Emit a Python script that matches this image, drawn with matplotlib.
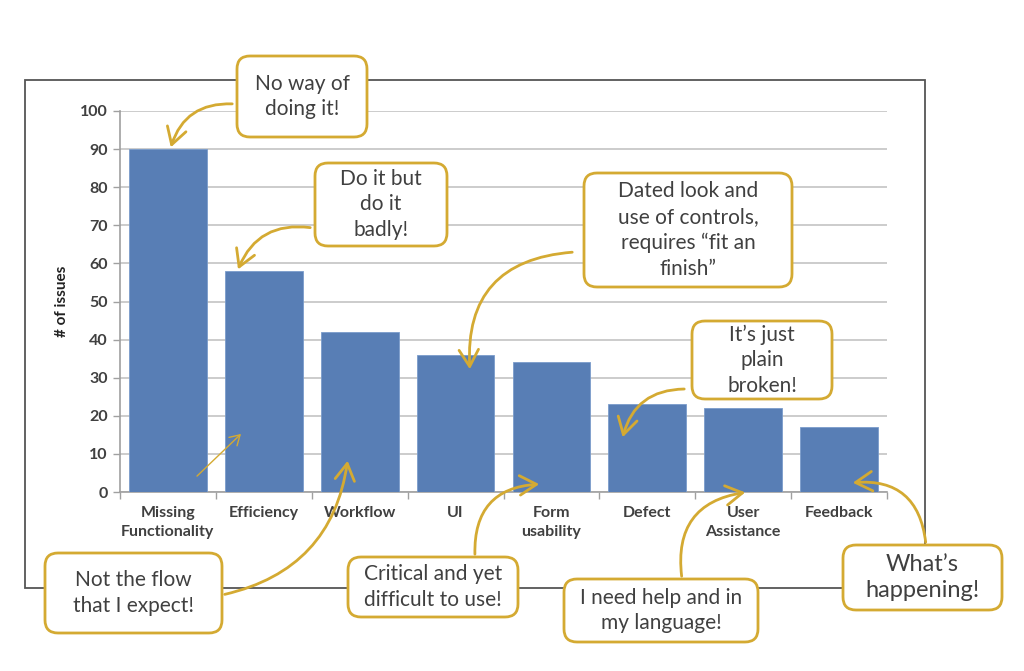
import matplotlib
matplotlib.use("Agg")
import matplotlib.pyplot as plt
from matplotlib.patches import FancyBboxPatch, FancyArrowPatch, Rectangle

plt.rcParams['font.family'] = ['Lato', 'DejaVu Sans']

# data
categories = ["Missing\nFunctionality", "Efficiency", "Workflow", "UI",
              "Form\nusability", "Defect", "User\nAssistance", "Feedback"]
issues = [90, 58, 42, 36, 34, 23, 22, 17]
yticks = [0, 10, 20, 30, 40, 50, 60, 70, 80, 90, 100]

# callouts: text, box (x0, y0, x1, y1) in pixels, arrow start, arrow end, rad, fontsize
callouts = [
    ("No way of\ndoing it!", (237, 56, 367, 137), (235, 104), (170, 150), 0.4, 15),
    ("Do it but\ndo it\nbadly!", (315, 163, 447, 246), (313, 228), (237, 272), 0.4, 15),
    ("Dated look and\nuse of controls,\nrequires \u201cfit an\nfinish\u201d",
     (584, 173, 792, 287), (575, 252), (470, 372), 0.5, 15),
    ("It\u2019s just\nplain\nbroken!", (692, 321, 832, 399), (687, 389), (622, 440), 0.4, 15),
    ("Not the flow\nthat I expect!", (45, 553, 222, 633), (222, 595), (348, 458), 0.35, 15),
    ("Critical and yet\ndifficult to use!", (348, 557, 518, 617), (475, 557), (542, 484), -0.5, 15),
    ("I need help and in\nmy language!", (564, 579, 758, 642), (682, 579), (748, 492), -0.5, 15),
    ("What\u2019s\nhappening!", (843, 545, 1002, 610), (926, 545), (850, 483), 0.5, 17),
]

W, H = 1024, 671
gold = '#D4AA32'
text_col = '#404040'
bar_col = '#587EB5'

fig = plt.figure(figsize=(W / 100, H / 100), dpi=100)
fig.patch.set_facecolor('white')

# overlay in pixel coordinates for the frame and callouts
ov = fig.add_axes([0, 0, 1, 1], zorder=0)
ov.set_xlim(0, W)
ov.set_ylim(H, 0)
ov.axis('off')
ov.add_patch(Rectangle((25, 80), 900, 508, fill=False, edgecolor='#555555', lw=1.3))

ax = fig.add_axes([120 / W, 179 / H, 767 / W, 381 / H], zorder=1)
ax.patch.set_alpha(0)
x = list(range(len(categories)))
ax.bar(x, issues, width=0.81, color=bar_col, edgecolor='#7A9CCB', linewidth=0.6, zorder=3)
ax.set_xlim(-0.5, len(categories) - 0.5)
ax.set_ylim(0, 100)
ax.set_yticks(yticks)
ax.set_yticklabels([str(v) for v in yticks], fontsize=11.5, color=text_col, fontweight='bold')
ax.set_xticks(x)
ax.set_xticklabels(categories, fontsize=11.5, color=text_col, linespacing=1.5, fontweight='bold')
ax.tick_params(axis='x', length=0, pad=10)
ax.set_xticks([i + 0.5 for i in range(-1, len(categories))], minor=True)
ax.tick_params(axis='x', which='minor', length=5, color='#A0A0A0', width=1)
ax.tick_params(axis='y', length=5, color='#A0A0A0', width=1, pad=4)
ax.grid(axis='y', color='#C4C4C4', lw=1.2, zorder=0)
for s in ['top', 'right']:
    ax.spines[s].set_visible(False)
for s in ['left', 'bottom']:
    ax.spines[s].set_color('#A0A0A0')
    ax.spines[s].set_linewidth(1.2)
ax.set_ylabel('# of issues', fontsize=11, fontweight='bold', color='#222222', labelpad=8)

# annotation layer on top
top = fig.add_axes([0, 0, 1, 1], zorder=2)
top.set_xlim(0, W)
top.set_ylim(H, 0)
top.axis('off')
top.patch.set_alpha(0)

for txt, (x0, y0, x1, y1), start, end, rad, fs in callouts:
    arr = FancyArrowPatch(start, end, connectionstyle=f"arc3,rad={rad}",
                          arrowstyle="->,head_length=0.6,head_width=0.35",
                          mutation_scale=20, color=gold, lw=2, zorder=2)
    top.add_patch(arr)
    box = FancyBboxPatch((x0, y0), x1 - x0, y1 - y0,
                         boxstyle="round,pad=0,rounding_size=13",
                         facecolor='white', edgecolor=gold, lw=2, zorder=3)
    top.add_patch(box)
    top.text((x0 + x1) / 2, (y0 + y1) / 2, txt, ha='center', va='center',
             fontsize=fs, color=text_col, linespacing=1.35, zorder=4)

# thin straight arrow inside the bars
top.add_patch(FancyArrowPatch((195, 478), (243, 432), arrowstyle="->,head_length=0.5,head_width=0.3",
                              mutation_scale=14, color=gold, lw=1, zorder=2))

fig.savefig('out.png', dpi=100)
